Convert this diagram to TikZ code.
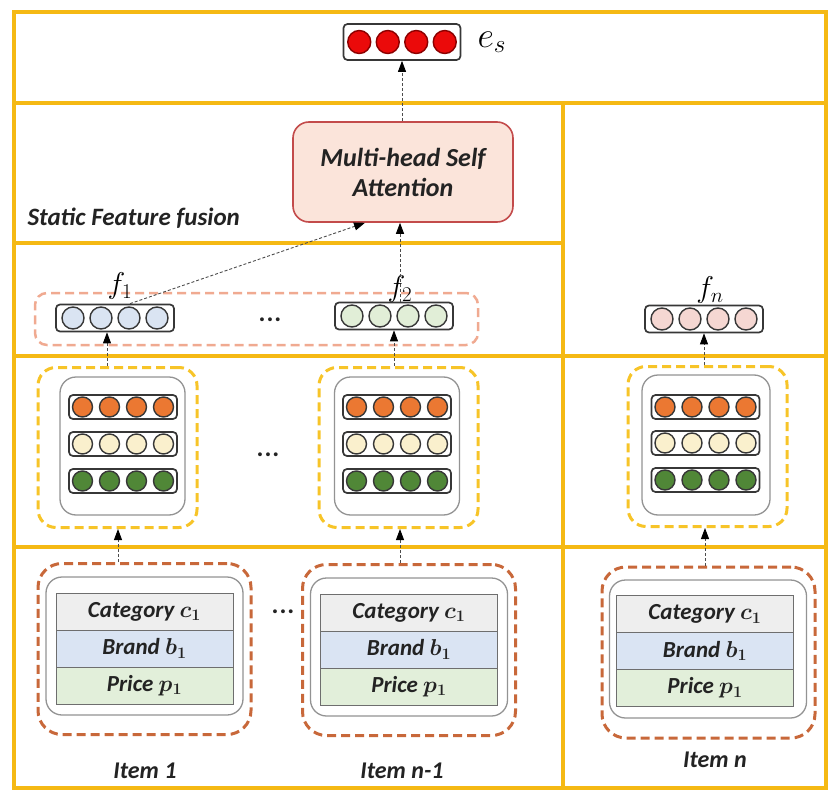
\RequirePackage{fix-cm}
\documentclass[tikz,border=0pt]{standalone}
\usepackage{fontspec}
\setmainfont{Carlito}
\usetikzlibrary{arrows.meta,calc}

\definecolor{framegold}{RGB}{245,185,20}
\definecolor{grpgold}{RGB}{247,196,40}
\definecolor{grporange}{RGB}{200,104,58}
\definecolor{grpsalmon}{RGB}{240,170,145}
\definecolor{vecedge}{RGB}{55,55,55}
\definecolor{redfill}{RGB}{235,10,10}
\definecolor{rededge}{RGB}{140,0,0}
\definecolor{orangefill}{RGB}{235,120,50}
\definecolor{creamfill}{RGB}{250,240,205}
\definecolor{greenfill}{RGB}{80,135,55}
\definecolor{bluefill}{RGB}{218,228,242}
\definecolor{lgreenfill}{RGB}{225,238,215}
\definecolor{pinkfill}{RGB}{245,215,210}
\definecolor{attnfill}{RGB}{251,228,218}
\definecolor{attnedge}{RGB}{195,75,75}
\definecolor{catfill}{RGB}{238,238,238}
\definecolor{brandfill}{RGB}{218,228,243}
\definecolor{pricefill}{RGB}{226,239,218}
\definecolor{celledge}{RGB}{110,110,110}
\definecolor{textdark}{RGB}{35,35,35}

% one embedding vector: rounded box with four circles
% #1 name, #2 x, #3 y, #4 width, #5 height, #6 fill, #7 radius, #8 spacing, #9 circle edge
\newcommand{\vecrow}[9]{%
  \node[vbox, minimum width=#4pt, minimum height=#5pt] (#1) at (#2,#3) {};
  \foreach \k in {-1.5,-0.5,0.5,1.5}
    \draw[line width=1.4pt, draw=#9, fill=#6] ($(#1.center)+(\k*#8,0)$) circle[radius=#7pt];
}

% feature table of one item
% #1 prefix, #2 x centre, #3 y of top row centre
\newcommand{\itemtable}[3]{%
  \node[cell, fill=catfill]   (#1c) at (#2,#3)      {Category $c_1$};
  \node[cell, fill=brandfill] (#1b) at (#2,#3+37)   {Brand $b_1$};
  \node[cell, fill=pricefill] (#1p) at (#2,#3+74)   {Price $p_1$};
}

\newcommand{\bigdots}{\textbf{.\kern1pt.\kern1pt.}}

\begin{document}
\begin{tikzpicture}[x=1pt,y=-1pt,
  frame/.style={draw=framegold, line width=4pt},
  vbox/.style={draw=vecedge, line width=1.7pt, rounded corners=4pt, fill=white, inner sep=0pt},
  lbl/.style={font=\fontsize{24}{28}\selectfont\bfseries\itshape\boldmath, text=textdark},
  mlbl/.style={font=\fontsize{30}{30}\selectfont, inner sep=0pt},
  grpyellow/.style={draw=grpgold, line width=3pt, dash pattern=on 9pt off 5pt, rounded corners=18pt, minimum width=159pt, minimum height=160pt},
  grporng/.style={draw=grporange, line width=3pt, dash pattern=on 9pt off 5pt, rounded corners=24pt, minimum width=213pt, minimum height=171pt},
  innergray/.style={draw=gray!85, line width=1.3pt, rounded corners=16pt, fill=white},
  cell/.style={draw=celledge, line width=1pt, minimum width=177pt, minimum height=37pt, inner sep=0pt,
    font=\fontsize{23}{26}\selectfont\bfseries\itshape\boldmath, text=textdark},
  uparrow/.style={draw=black!70, line width=0.9pt, dash pattern=on 3pt off 2pt,
    -{Triangle[length=11pt,width=8pt,color=black]}},
  dots/.style={font=\fontsize{26}{26}\selectfont, text=textdark}
]
\useasboundingbox (0,0) rectangle (828,792);

% ---------- yellow frame and band dividers ----------
\draw[frame] (14,12) rectangle (826,788);
\draw[frame] (14,103) -- (826,103);
\draw[frame] (14,243) -- (563,243);
\draw[frame] (14,356) -- (826,356);
\draw[frame] (14,547) -- (826,547);
\draw[frame] (563,103) -- (563,788);

% arrow columns
\coordinate (colA) at (118,0);
\coordinate (colB) at (400,0);
\coordinate (colC) at (705,0);

% ---------- item tables (bottom band) ----------
\node[grporng] (item1) at (144.5,649) {};
\node[innergray, minimum width=197pt, minimum height=138pt] (item1in) at (144.5,646) {};
\itemtable{ta}{144.5}{611.5}
\node[lbl] (item1lbl) at (145,771) {Item 1};

\node[grporng] (item2) at (409,650) {};
\node[innergray, minimum width=197pt, minimum height=138pt] (item2in) at (409,647) {};
\itemtable{tb}{409}{612.5}
\node[lbl] (item2lbl) at (402,771) {Item n-1};

\node[grporng] (item3) at (708.5,652.5) {};
\node[innergray, minimum width=197pt, minimum height=138pt] (item3in) at (708,649) {};
\itemtable{tc}{705}{614}
\node[lbl] (item3lbl) at (715,760) {Item n};

\node[dots] (dotsitem) at (283,612) {\bigdots};

% ---------- per-feature embeddings (middle band) ----------
\node[grpyellow] (grp1) at (117.5,447.5) {};
\node[innergray, minimum width=125pt, minimum height=138pt] (grp1in) at (122.5,446) {};
\vecrow{g1o}{123}{407}{108}{24}{orangefill}{10}{27}{vecedge}
\vecrow{g1c}{123}{444}{108}{24}{creamfill}{10}{27}{vecedge}
\vecrow{g1g}{123}{481}{108}{24}{greenfill}{10}{27}{vecedge}

\node[grpyellow] (grp2) at (398.5,447.5) {};
\node[innergray, minimum width=125pt, minimum height=138pt] (grp2in) at (397,446) {};
\vecrow{g2o}{397}{407}{108}{24}{orangefill}{10}{27}{vecedge}
\vecrow{g2c}{397}{444}{108}{24}{creamfill}{10}{27}{vecedge}
\vecrow{g2g}{397}{481}{108}{24}{greenfill}{10}{27}{vecedge}

\node[grpyellow] (grp3) at (707.5,446.5) {};
\node[innergray, minimum width=128pt, minimum height=140pt] (grp3in) at (706,445) {};
\vecrow{g3o}{705.5}{407}{108}{24}{orangefill}{10}{27}{vecedge}
\vecrow{g3c}{705.5}{443}{108}{24}{creamfill}{10}{27}{vecedge}
\vecrow{g3g}{705.5}{480}{108}{24}{greenfill}{10}{27}{vecedge}

\node[dots] (dotsgrp) at (268,455) {\bigdots};

% ---------- fused item vectors ----------
\node[draw=grpsalmon, line width=2.5pt, dash pattern=on 9pt off 5pt, rounded corners=12pt,
      minimum width=443pt, minimum height=52pt] (fgroup) at (256.5,319) {};
\vecrow{f1}{115}{318}{118}{27}{bluefill}{11}{28}{vecedge}
\vecrow{f2}{394}{316}{118}{27}{lgreenfill}{11}{28}{vecedge}
\vecrow{fn}{704}{319}{118}{27}{pinkfill}{11}{28}{vecedge}
\node[mlbl] (f1lbl) at (120,286) {$f_1$};
\node[mlbl] (f2lbl) at (400,289) {$f_2$};
\node[mlbl] (fnlbl) at (710,290) {$f_n$};
\node[dots] (dotsf) at (270,320) {\bigdots};

% ---------- attention and output ----------
\node[draw=attnedge, fill=attnfill, line width=1.6pt, rounded corners=16pt,
      minimum width=220pt, minimum height=100pt, align=center,
      font=\fontsize{26}{30}\selectfont\bfseries\itshape, text=textdark] (mhsa) at (403,172)
      {Multi-head Self\\Attention};
\node[font=\fontsize{25}{28}\selectfont\bfseries\itshape, text=textdark, anchor=west] (sff) at (24,218) {Static Feature fusion};

\vecrow{es}{402}{42}{117}{36}{redfill}{11.5}{28.5}{rededge}
\node[font=\fontsize{36}{36}\selectfont, anchor=west] (eslbl) at (474,42) {$e_s$};

% ---------- connectors ----------
\draw[uparrow] (item1.north -| colA) -- (grp1.south -| colA);
\draw[uparrow] (item2.north -| colB) -- (grp2.south -| colB);
\draw[uparrow] (item3.north -| colC) -- (grp3.south -| colC);

\draw[uparrow] ([xshift=-8pt]f1.south |- grp1.north) -- ([xshift=-8pt]f1.south);
\draw[uparrow] (f2.south |- grp2.north) -- (f2.south);
\draw[uparrow] (fn.south |- grp3.north) -- (fn.south);

\draw[uparrow] ([xshift=15pt]f1.north) -- ([xshift=-38pt]mhsa.south);
\draw[uparrow] ([xshift=6pt]f2.north) -- ([xshift=6pt]f2.north |- mhsa.south);
\draw[uparrow] (mhsa.north -| es.south) -- (es.south);
\end{tikzpicture}
\end{document}
